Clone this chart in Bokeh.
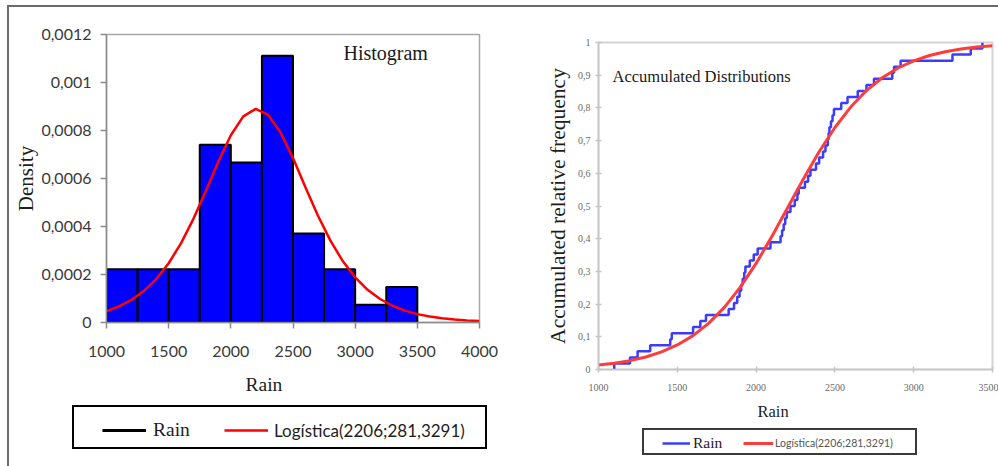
import numpy as np
from bokeh.plotting import figure
from bokeh.layouts import row, column
from bokeh.models import (FixedTicker, CustomJSTickFormatter, Label, Legend,
                          LegendItem, Range1d)
from bokeh.core.properties import value
from bokeh.embed import file_html
from bokeh.resources import INLINE

# ---------------- data ----------------
bin_edges = [1000, 1250, 1500, 1750, 2000, 2250, 2500, 2750, 3000, 3250, 3500]

# observed annual rain (sorted), read from the empirical CDF steps
rain = [1100, 1200, 1248, 1328, 1455, 1465, 1600, 1646, 1682,
        1826, 1860, 1880, 1895, 1905, 1915, 1925, 1932, 1960, 1985,
        2010, 2091, 2155, 2165, 2175, 2185, 2195, 2218, 2245,
        2262, 2270, 2310, 2330, 2345, 2380, 2400, 2425, 2440, 2455,
        2460, 2465, 2475, 2485, 2494,
        2540, 2580, 2645, 2700, 2748,
        2864, 2875, 2917, 3246, 3362, 3436]

# fitted logistic density (red curve, left panel)
pdf_x = [1000, 1100, 1200, 1300, 1400, 1500, 1600, 1700, 1800, 1900, 2000,
         2100, 2200, 2300, 2400, 2500, 2600, 2700, 2800, 2900, 3000,
         3100, 3200, 3300, 3400, 3500, 3600, 3700, 3800, 3900, 4000]
pdf_y = [4.74e-5, 6.68e-5, 9.39e-5, 1.31e-4, 1.81e-4, 2.47e-4, 3.31e-4,
         4.33e-4, 5.49e-4, 6.71e-4, 7.80e-4, 8.59e-4, 8.90e-4, 8.65e-4,
         7.92e-4, 6.85e-4, 5.64e-4, 4.46e-4, 3.42e-4, 2.56e-4, 1.88e-4,
         1.36e-4, 9.79e-5, 6.97e-5, 4.95e-5, 3.49e-5, 2.46e-5, 1.73e-5,
         1.22e-5, 8.5e-6, 6.0e-6]

# fitted logistic CDF (red curve, right panel)
cdf_x = [1000, 1100, 1200, 1300, 1400, 1500, 1600, 1700, 1800, 1900, 2000,
         2100, 2200, 2300, 2400, 2500, 2600, 2700, 2800, 2900, 3000,
         3100, 3200, 3300, 3400, 3500]
cdf_y = [0.0135, 0.0192, 0.0271, 0.0383, 0.0538, 0.0750, 0.1037, 0.1418,
         0.1908, 0.2518, 0.3245, 0.4068, 0.4947, 0.5829, 0.6660, 0.7401,
         0.8025, 0.8530, 0.8923, 0.9220, 0.9440, 0.9601, 0.9717, 0.9800,
         0.9859, 0.9901]

density_ticks = [0, 0.0002, 0.0004, 0.0006, 0.0008, 0.001, 0.0012]
rain_ticks_left = [1000, 1500, 2000, 2500, 3000, 3500, 4000]
freq_ticks = [0, 0.1, 0.2, 0.3, 0.4, 0.5, 0.6, 0.7, 0.8, 0.9, 1.0]
rain_ticks_right = [1000, 1500, 2000, 2500, 3000, 3500]

legend_fit = "Logística(2206;281,3291)"

SERIF = "Liberation Serif"
SANS = "Lato"


def comma_fmt():
    return CustomJSTickFormatter(code="""
        if (Math.abs(tick) < 1e-12) return "0";
        const s = (+tick.toFixed(6)).toString();
        return s.replace(".", ",");
    """)


def strip(width, height):
    s = figure(width=width, height=height, x_range=Range1d(0, width),
               y_range=Range1d(height, 0), x_axis_location=None,
               y_axis_location=None, min_border=0, output_backend="svg",
               toolbar_location=None, frame_align=False)
    s.outline_line_color = None
    s.background_fill_color = "white"
    s.border_fill_color = "white"
    s.grid.visible = False
    return s


def legend_key(fig, color, width):
    # a key-only line (no visible points) used to draw a legend sample
    nan = np.array([np.nan])
    return fig.line(x=nan, y=nan, line_color=color, line_width=width)


def box_legend(renderer, loc, w, h, color):
    return Legend(items=[LegendItem(label=value(" "), renderers=[renderer])],
                  location=loc, padding=0, margin=0, spacing=0,
                  glyph_width=0, glyph_height=1, label_standoff=0,
                  label_width=w, label_height=h, label_text_font_size="8px",
                  border_line_color=color, border_line_width=2,
                  border_line_alpha=1.0,
                  background_fill_color="white", background_fill_alpha=1.0)


def item_legend(label, renderer, loc, gw, gh, standoff, font, size, color):
    return Legend(items=[LegendItem(label=value(label), renderers=[renderer])],
                  location=loc, padding=0, margin=0, spacing=0,
                  glyph_width=gw, glyph_height=gh, label_standoff=standoff,
                  label_height=gh, label_text_font=font,
                  label_text_font_size=size, label_text_color=color,
                  border_line_color=None, background_fill_alpha=0)


# ---------------- left: histogram ----------------
p1 = figure(width=531, height=359, x_range=Range1d(1000, 4000),
            y_range=Range1d(0, 0.0012), output_backend="svg",
            toolbar_location=None, frame_align=False,
            min_border_left=97, min_border_right=61,
            min_border_top=27, min_border_bottom=44)
p1.xgrid.visible = False
p1.ygrid.visible = False
p1.background_fill_color = "white"
p1.border_fill_color = "white"
p1.outline_line_color = "#a8a8a8"
p1.outline_line_width = 1.5

hist, _ = np.histogram(rain, bins=bin_edges, density=True)
p1.quad(left=bin_edges[:-1], right=bin_edges[1:], bottom=0, top=hist,
        fill_color="#0000ff", line_color="black", line_width=2)
p1.line(pdf_x, pdf_y, line_color="#ff0000", line_width=2.5)

p1.xaxis.ticker = FixedTicker(ticks=rain_ticks_left)
p1.yaxis.ticker = FixedTicker(ticks=density_ticks)
p1.yaxis.formatter = comma_fmt()
for ax in (p1.xaxis[0], p1.yaxis[0]):
    ax.axis_line_color = "#8c8c8c"
    ax.axis_line_width = 1.5
    ax.major_tick_line_color = "#8c8c8c"
    ax.major_tick_line_width = 1.5
    ax.major_tick_out = 6
    ax.major_tick_in = 0
    ax.minor_tick_line_color = None
    ax.major_label_text_font = SANS
    ax.major_label_text_font_size = "16px"
    ax.major_label_text_color = "#3a3a3a"
p1.xaxis.major_label_standoff = 17
p1.yaxis.major_label_standoff = 9
p1.yaxis.axis_label = "Density"
p1.yaxis.axis_label_text_font = SERIF
p1.yaxis.axis_label_text_font_size = "21px"
p1.yaxis.axis_label_text_font_style = "normal"
p1.yaxis.axis_label_text_color = "#1e1e1e"
p1.yaxis.axis_label_standoff = 0

p1.add_layout(Label(x=2906, y=0.00117, text="Histogram", text_font=SERIF,
                    text_font_size="20px", text_baseline="top",
                    text_color="#1a1a1a"))

# strip under the histogram: axis title and legend
s1 = strip(531, 100)
k_rain1 = legend_key(s1, "black", 3)
k_fit1 = legend_key(s1, "#ff0000", 2.5)
s1.add_layout(Label(x=236, y=7, text="Rain", text_font=SERIF,
                    text_font_size="19.5px", text_baseline="top",
                    text_color="#1e1e1e"))
s1.add_layout(box_legend(k_rain1, (63, 17), 411, 40, "black"))
s1.add_layout(item_legend("Rain", k_rain1, (93, 24), 44, 24, 7, SERIF,
                          "19.5px", "#1e1e1e"))
s1.add_layout(item_legend(legend_fit, k_fit1, (215, 24), 44, 24, 6, SANS,
                          "17px", "#1e1e1e"))

# ---------------- right: accumulated distributions ----------------
p2 = figure(width=458, height=389, x_range=Range1d(1000, 3500),
            y_range=Range1d(0, 1), output_backend="svg",
            toolbar_location=None, frame_align=False,
            min_border_left=58, min_border_right=6,
            min_border_top=35, min_border_bottom=27)
p2.xgrid.visible = False
p2.ygrid.visible = False
p2.background_fill_color = "white"
p2.border_fill_color = "white"
p2.outline_line_color = "#d4d4d4"
p2.outline_line_width = 2

xs = sorted(rain)
n = len(xs)
ecdf_y = list(np.arange(1, n + 1) / n)
p2.step([xs[0]] + xs, [0.0] + ecdf_y, mode="after",
        line_color="#3c3cff", line_width=2.5)
p2.line(cdf_x, cdf_y, line_color="#ff3c3c", line_width=3)

p2.xaxis.ticker = FixedTicker(ticks=rain_ticks_right)
p2.yaxis.ticker = FixedTicker(ticks=freq_ticks)
p2.yaxis.formatter = comma_fmt()
for ax in (p2.xaxis[0], p2.yaxis[0]):
    ax.axis_line_color = "#c6c6c6"
    ax.axis_line_width = 1.5
    ax.major_tick_line_color = "#c6c6c6"
    ax.major_tick_line_width = 1.5
    ax.major_tick_out = 3
    ax.major_tick_in = 3
    ax.minor_tick_line_color = None
    ax.major_label_text_font = SERIF
    ax.major_label_text_font_size = "10px"
    ax.major_label_text_color = "#6a6a6a"
p2.xaxis.major_label_standoff = 11
p2.yaxis.major_label_standoff = 5
p2.yaxis.axis_label = "Accumulated relative frequency"
p2.yaxis.axis_label_text_font = SERIF
p2.yaxis.axis_label_text_font_size = "21.5px"
p2.yaxis.axis_label_text_font_style = "normal"
p2.yaxis.axis_label_text_color = "#1e1e1e"
p2.yaxis.axis_label_standoff = 5

p2.add_layout(Label(x=1089, y=0.924, text="Accumulated Distributions",
                    text_font=SERIF, text_font_size="16.5px",
                    text_baseline="top", text_color="#1a1a1a"))

s2 = strip(458, 70)
k_rain2 = legend_key(s2, "#3c3cff", 2.5)
k_fit2 = legend_key(s2, "#ff3c3c", 3)
s2.add_layout(Label(x=217, y=5, text="Rain", text_font=SERIF,
                    text_font_size="16.5px", text_baseline="top",
                    text_color="#1e1e1e"))
s2.add_layout(box_legend(k_rain2, (102, 11), 271, 23, "#3a3a3a"))
s2.add_layout(item_legend("Rain", k_rain2, (122, 13), 28, 20, 3, SERIF,
                          "15.5px", "#1e1e1e"))
s2.add_layout(item_legend(legend_fit, k_fit2, (203, 13), 30, 20, 2, SANS,
                          "10.5px", "#555555"))

layout = row(column(p1, s1), column(p2, s2), margin=(5, 0, 0, 7),
             styles={"border-top": "2px solid #6b6b6b",
                     "border-left": "2px solid #6b6b6b"})

open("out.html", "w").write(file_html(layout, INLINE))
